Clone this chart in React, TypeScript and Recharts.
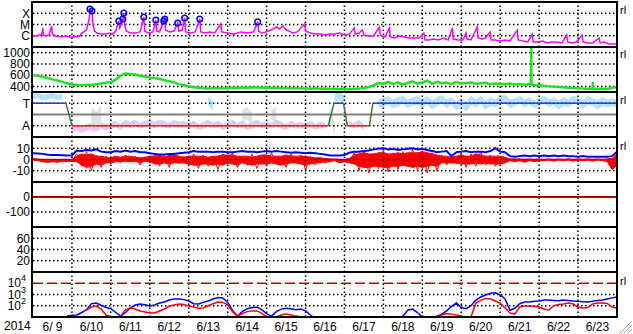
import React from 'react';
import { ComposedChart, Line, Area, XAxis, YAxis, ReferenceLine } from 'recharts';

// ---------- layout ----------
const W = 633;
const PANEL_H = 45;
const PANEL_TOPS = [2, 47, 92, 137, 182, 227, 272];
const MARGIN = { top: 0, right: 16, bottom: 0, left: 0 };
const FONT = '"Liberation Sans", Arial, sans-serif';
const TICK_STYLE = { fill: '#000', fontSize: 12, fontFamily: FONT };

// ---------- categories / labels ----------
const DAY_LABELS = ['6/ 9', '6/10', '6/11', '6/12', '6/13', '6/14', '6/15', '6/16', '6/17', '6/18', '6/19', '6/20', '6/21', '6/22', '6/23'];
const YEAR_LABEL = '2014';
const T_END = 360; // hours from 2014-06-09 00UT
const STEP = 3; // hours between samples of the gridded series
const DAY_BOUNDS = DAY_LABELS.slice(1).map((_, i) => (i + 1) * 24);
const LABEL_HOURS = DAY_LABELS.map((_, i) => i * 24 + 12);

const XRAY_TICKS = [1e-6, 1e-5, 1e-4];
const XRAY_LABELS = ['C', 'M', 'X'];
const SPEED_TICKS = [400, 600, 800, 1000];
const SECTOR_TICKS = [1, 3];
const SECTOR_LABELS = ['A', 'T'];
const IMF_TICKS = [-10, 0, 10];
const DST_TICKS = [-100, 0];
const KP_TICKS = [20, 40, 60];
const PROTON_TICKS = [1e2, 1e3, 1e4];

// ---------- X-ray flux [hour, W/m2] ----------
const xray: [number, number][] = [
  [0, 9.5e-7], [2, 9.5e-7], [4, 1.17e-6], [5.5, 1.4e-6], [6, 4.9e-6], [6.5, 1.17e-6], [8, 9.5e-7], [10, 1.17e-6],
  [11.5, 7.4e-6], [12, 1.4e-6], [14, 9.5e-7], [17, 7.8e-7], [20, 9.5e-7], [23, 7.8e-7], [26, 7.8e-7], [29, 9.5e-7],
  [30, 1.75e-6], [32, 2.6e-6], [33, 3.2e-6], [34.5, 2.5e-5], [35.3, 2.4e-4], [35.8, 1.3e-4], [36.3, 1.6e-4], [37, 1.1e-5],
  [38, 2.6e-6], [39.5, 1.75e-6], [42, 1.4e-6], [45, 1.4e-6], [47, 1.75e-6], [49, 1.4e-6], [51, 2.6e-6], [52.9, 2.0e-5],
  [53.5, 4.9e-6], [54.5, 1.1e-5], [55.4, 3.1e-5], [56, 1.05e-4], [56.6, 7.4e-6], [57.5, 2.6e-6], [60, 1.75e-6], [63, 1.75e-6],
  [66, 2.2e-6], [68.3, 4.6e-5], [68.9, 2.6e-6], [71, 1.75e-6], [74, 2.2e-6], [75.7, 2.5e-5], [76.3, 2.6e-6], [78, 2.2e-6],
  [80.6, 2.0e-5], [81.2, 3.1e-5], [81.8, 3.2e-6], [84, 2.2e-6], [87, 2.6e-6], [89.2, 1.35e-5], [89.8, 2.6e-6], [92, 3.2e-6],
  [93.5, 3.8e-5], [94.1, 2.2e-6], [97, 1.75e-6], [100, 2.2e-6], [102.8, 3.1e-5], [103.4, 2.2e-6], [106, 1.75e-6], [109, 2.2e-6],
  [112, 1.75e-6], [115.7, 1.1e-5], [116.3, 2.2e-6], [120, 1.75e-6], [124, 1.4e-6], [128, 2.2e-6], [132, 1.75e-6], [136, 2.2e-6],
  [138.5, 1.7e-5], [139.1, 2.6e-6], [141, 1.75e-6], [144, 2.2e-6], [148, 4.0e-6], [150, 6.0e-6], [152, 4.0e-6], [154, 7.4e-6],
  [156, 3.2e-6], [158, 2.6e-6], [160, 1.75e-6], [163, 2.2e-6], [167.4, 1.1e-5], [168, 2.6e-6], [171, 1.75e-6], [174, 1.4e-6],
  [177, 1.4e-6], [180, 1.17e-6], [183, 1.4e-6], [186, 1.4e-6], [189, 1.75e-6], [192, 1.17e-6], [195, 1.4e-6], [198, 4.9e-6],
  [198.6, 1.4e-6], [201, 1.75e-6], [203, 3.2e-6], [204, 1.17e-6], [207, 9.5e-7], [210, 9.5e-7], [213.5, 6.0e-6], [214.1, 1.17e-6],
  [217, 7.8e-7], [219.7, 4.9e-6], [220.3, 7.8e-7], [223, 6.3e-7], [226, 9.5e-7], [229, 7.8e-7], [232, 6.3e-7], [235, 6.3e-7],
  [238, 6.3e-7], [241, 1.75e-6], [241.6, 4.2e-7], [244, 4.2e-7], [247, 5.1e-7], [250, 4.2e-7], [253, 6.3e-7], [256, 4.2e-7],
  [258.5, 4.9e-6], [259.1, 5.1e-7], [262, 4.2e-7], [265, 4.2e-7], [267, 1.75e-6], [267.6, 5.1e-7], [270, 4.2e-7], [273.8, 6.0e-6],
  [274.4, 6.3e-7], [277, 5.1e-7], [279, 6.3e-7], [281.8, 2.2e-6], [282.4, 4.2e-7], [285, 4.2e-7], [288, 3.4e-7], [291, 4.2e-7],
  [294, 3.4e-7], [298.5, 3.2e-6], [299.1, 4.2e-7], [302, 3.4e-7], [305, 2.8e-7], [307.7, 1.4e-6], [308.3, 2.8e-7], [311, 2.8e-7],
  [314, 3.4e-7], [317, 2.3e-7], [320, 2.8e-7], [323, 2.8e-7], [326, 2.3e-7], [329, 1.17e-6], [329.6, 2.8e-7], [332, 2.3e-7],
  [335, 2.8e-7], [338.5, 1.17e-6], [339.1, 2.8e-7], [342, 2.3e-7], [345, 2.3e-7], [349, 6.3e-7], [349.6, 2.3e-7], [352, 2.8e-7],
  [355, 1.85e-7], [358, 1.85e-7], [360, 1.85e-7],
];

// flare markers [hour, peak flux]
const flares: [number, number][] = [
  [35.1, 2.4e-4], [36.3, 1.6e-4], [52.9, 2.0e-5], [55.4, 3.1e-5], [56.0, 1.05e-4], [68.3, 4.6e-5], [75.7, 2.5e-5],
  [80.6, 2.0e-5], [81.2, 3.1e-5], [89.2, 1.35e-5], [93.5, 3.8e-5], [102.8, 3.1e-5], [138.5, 1.7e-5],
];

// ---------- solar wind speed, every 3 h ----------
const speed = [
  600, 590, 570, 550, 525, 505, 480, 455,
  435, 425, 420, 430, 425, 440, 450, 465,
  475, 520, 590, 630, 620, 610, 590, 575,
  560, 550, 530, 510, 490, 470, 440, 420,
  400, 385, 375, 368, 362, 370, 365, 372,
  368, 375, 370, 378, 372, 385, 380, 375,
  382, 370, 375, 368, 372, 365, 370, 362,
  368, 360, 365, 358, 362, 355, 358, 352,
  355, 350, 358, 360, 370, 390, 420, 460,
  445, 480, 440, 470, 430, 460, 490, 450,
  470, 500, 445, 480, 455, 470, 440, 475,
  450, 460, 470, 445, 455, 465, 440, 450,
  445, 440, 450, 435, 440, 430, 438, 425,
  420, 410, 400, 395, 390, 385, 375, 370,
  368, 360, 358, 362, 355, 358, 355, 375,
  390,
];
const speedSpikes: [number, number][] = [[306.9, 440], [307.1, 1080], [307.3, 430], [345.1, 478], [345.3, 360]];

// ---------- sector polarity ----------
const sectorKnots: [number, number][] = [
  [0, 3], [20.3, 3], [24, 1], [182, 1], [185.5, 3], [191.4, 3], [193.8, 1], [207.4, 1], [209.5, 3], [360, 3],
];
const N = null;
type Band = [number, number] | null;
// spread of the "away" (light blue) samples, every 3 h
const awayBand: Band[] = [
  [3.4, 3.8], [3.5, 3.9], [3.3, 3.7], [3.4, 3.8], [3.5, 3.9], [3.3, 3.7], [3.4, 3.8], N,
  N, N, N, N, N, [2.4, 3.2], N, N,
  N, N, N, N, N, N, N, [3.0, 3.5],
  N, N, N, N, N, N, N, N,
  N, N, N, N, [2.9, 3.6], [2.4, 3.1], N, N,
  N, N, N, N, N, N, N, N,
  N, N, N, N, N, N, N, N,
  N, N, N, N, N, N, [3.2, 3.8], [3.3, 4.0],
  [2.9, 3.6], N, N, N, N, N, N, [2.7, 3.3],
  [2.7, 3.4], [2.9, 3.6], [2.6, 3.3], [2.8, 3.5], [3.0, 3.6], [2.6, 3.3], [2.8, 3.5], [2.9, 3.6],
  [2.7, 3.3], [2.9, 3.6], [2.5, 3.2], [2.8, 3.5], [3.0, 3.7], [2.6, 3.3], [2.9, 3.5], [2.4, 3.1],
  [2.8, 3.4], [2.3, 3.1], [2.9, 3.6], [2.7, 3.3], [3.0, 3.6], [2.5, 3.2], [2.8, 3.5], [2.7, 3.3],
  [2.9, 3.6], [3.1, 3.7], [2.6, 3.3], [2.8, 3.4], [3.0, 3.6], [2.7, 3.3], [2.9, 3.5], [2.6, 3.2],
  [2.8, 3.4], [3.0, 3.6], [2.7, 3.3], [2.9, 3.5], [2.5, 3.2], [2.8, 3.5], [2.7, 3.3], [3.0, 3.6],
  [2.9, 3.5], [2.6, 3.2], [2.9, 3.6], [2.8, 3.4], [2.5, 3.2], [2.8, 3.5], [2.7, 3.3], [2.8, 3.4],
  [2.7, 3.3],
];
// spread of the "toward" (pink) samples, every 3 h
const towardBand: Band[] = [
  N, N, N, N, N, N, N, N,
  [0.5, 0.9], [0.6, 1.1], [0.4, 0.9], [0.6, 1.1], [0.7, 1.2], [0.5, 1.0], [0.8, 1.3], [0.6, 1.1],
  [0.8, 1.2], [0.9, 1.4], [0.7, 1.1], [1.0, 1.5], [0.8, 1.3], [1.0, 1.5], [0.8, 1.2], [0.9, 1.4],
  [1.0, 1.5], [0.8, 1.3], [1.1, 1.5], [0.9, 1.4], [0.8, 1.2], [1.0, 1.5], [0.8, 1.3], [0.9, 1.4],
  [0.8, 1.2], [0.9, 1.4], [0.7, 1.1], [0.8, 1.3], [1.0, 1.5], [0.8, 1.2], [0.9, 1.4], [0.7, 1.1],
  [0.8, 1.3], [1.0, 1.5], [0.8, 1.2], [0.9, 1.4], [0.7, 1.1], [0.8, 1.3], [1.0, 1.5], [0.8, 1.2],
  [0.9, 1.4], [0.8, 1.2], [1.0, 1.5], [0.8, 1.3], [0.7, 1.1], [0.9, 1.4], [0.8, 1.2], [0.8, 1.3],
  [0.8, 1.2], [0.9, 1.4], [0.7, 1.1], [0.8, 1.3], [0.8, 1.2], N, N, N,
  N, [0.9, 1.4], [0.8, 1.2], [1.0, 1.5], [0.7, 1.1], N, N, N,
  N, N, N, N, N, N, N, N,
  N, N, N, N, N, N, N, N,
  N, N, N, N, N, N, N, N,
  N, N, N, N, N, N, N, N,
  N, N, N, N, N, N, N, N,
  N, N, N, N, N, N, N, N,
  N,
];
// spread of the undetermined (gray) samples, every 3 h
const grayBand: Band[] = [
  N, N, N, N, N, N, N, N,
  N, N, N, N, [0.4, 2.6], [0.6, 2.2], [1.5, 2.8], N,
  N, N, N, N, N, N, N, N,
  N, N, N, N, N, N, N, N,
  N, N, N, N, N, N, N, N,
  N, N, N, [1.4, 2.4], [1.6, 2.6], [1.2, 2.2], N, N,
  N, [1.6, 2.4], [1.4, 2.6], N, N, N, N, N,
  N, N, N, N, N, [1.8, 2.6], [0.2, 1.2], N,
  N, N, N, N, N, N, N, N,
  N, N, N, N, N, N, N, N,
  N, N, N, N, N, N, N, N,
  N, N, N, N, N, N, N, N,
  N, N, N, N, N, N, N, N,
  N, N, N, N, N, N, N, N,
  N, N, N, N, N, N, N, N,
  N,
];

// ---------- IMF Bt (nT), Bz dense core spread and Bz spikes (nT), every 3 h ----------
const bt = [
  5.5, 5.3, 5, 4.2, 4, 4, 3.8, 3.5,
  3.5, 8, 7.5, 8.5, 8, 9, 7, 6.5,
  6.5, 7.5, 7, 8, 7, 7.5, 6.5, 6.5,
  5.5, 5, 4.5, 4.5, 5, 5, 5.5, 6,
  6.5, 7.5, 7, 7, 7, 6.5, 7, 7,
  6.5, 6.5, 7, 7.5, 7, 7, 6.5, 7,
  7.5, 7, 7.5, 7, 6.5, 6, 6.5, 6,
  5.5, 6, 5.5, 5, 4.5, 3.5, 3.5, 3.5,
  4, 6, 7, 7, 7.5, 8, 9, 9.5,
  10, 9, 9.5, 8.5, 9, 9.5, 10, 9,
  9.5, 8.5, 7.5, 6.5, 7, 7.5, 3, 6.5,
  7, 7.5, 6.5, 7, 7, 6.5, 7.5, 10,
  7, 6.5, 3, 2.5, 3, 3.5, 3, 3.5,
  3, 3.5, 3, 3.5, 3, 3.5, 3, 3,
  2.5, 3, 2.5, 2.5, 2.5, 2.5, 2.5, 3,
  7,
];
const bzCore: [number, number][] = [
  [-0.5, 1], [-1, 0.5], [-2, -0.5], [-2.5, -1], [-2, -1], [-2.5, -1], [-1.5, 0], [-2, -0.5],
  [-1.5, 0], [-2, 3], [-5, 5], [-7, 4], [-6, 5], [-4, 3], [-5, 3], [-3, 2],
  [-3, 1.5], [-2, 3], [-2, 2], [-1.5, 3], [-2, 3], [-1.5, 2], [-3, 1.5], [-1.5, 2],
  [-2, 3], [-4, 3], [-4, 4], [-3, 2], [-4, 4], [-3, 4], [-3, 3], [-3, 2],
  [-4, 3], [-5, 3], [-5, 3], [-4, 3], [-4, 2], [-5, 3], [-4, 3], [-5, 4],
  [-3, 4], [-4, 4], [-5, 3], [-3, 3], [-4, 3], [-5, 2], [-4, 3], [-4, 4],
  [-4, 4], [-3, 3], [-4, 3], [-5, 3], [-4, 4], [-3, 3], [-3, 3], [-4, 3],
  [-5, 3], [-4, 2], [-3, 1.5], [-3, 1.5], [-2, 1], [-2, 0.5], [-1, 0.5], [-3, 0],
  [-2, 0], [-3, 1], [-4, 4], [-6, 5], [-7, 6], [-7, 5], [-6, 5], [-6, 6],
  [-7, 6], [-7, 5], [-6, 5], [-6, 6], [-5, 5], [-6, 6], [-7, 6], [-6, 6],
  [-7, 7], [-6, 6], [-5, 5], [-6, 4], [-3, 3], [-3, 3], [-3, 2], [-3, 3],
  [-4, 4], [-4, 3], [-4, 3], [-3, 5], [-4, 4], [-3, 3], [-4, 3], [-4, 3],
  [-4, 3], [-3, 2], [-1, 0.5], [-2, 0.5], [-1, 0.5], [-2.5, 0], [-1, 0.5], [-2, 0],
  [-1, 0.5], [-1, 0], [-0.5, 0.5], [-1.5, 0], [-0.5, 0.5], [-1, 0], [-0.5, 0.5], [-1.5, 0],
  [-0.5, 0.5], [-1, 0], [-0.5, 0.5], [-1.5, 0], [-0.5, 0.5], [-1, 0], [-2, 0.5], [-9, 1],
  [-5, 5],
];
const bzSpikes = [
  0.5, -0.5, -1.5, -2, -1.5, -2, -1, -1.5,
  -1, 5, -6, 7, -10, 4, -7, 3,
  -4, 2, -3, 4, -2, 3, -5, 2,
  -3, 5, -6, 4, -7, 6, -4, 3,
  -5, 5, -8, 4, -6, 3, -9, 5,
  -4, 6, -7, 2, -5, 5, -8, 3,
  -6, 6, -4, 2, -7, 5, -3, 4,
  -9, 3, -5, 2, -3, -1, 0, -2,
  -1, -3, 6, -10, 8, -12, 5, -8,
  9, -11, 6, -9, 7, -6, 9, -10,
  8, -12, 6, -10, 4, -5, 3, -4,
  6, -7, 5, -6, 7, -5, 4, -6,
  3, -2, 0, -1, 0.5, -2, 0, -1.5,
  0, -0.5, 0, -1, 0, -0.5, 0.5, -1,
  0, -0.5, 0, -1, 0, -0.5, 0, -8,
  3,
];

// ---------- particle flux (log), every 3 h ----------
const fluxBlue = [
  N, N, N, N, N, N, N, 12,
  14, 15, 25, 45, 150, 175, 110, 70,
  55, 25, 12, 25, 63, 116, 143, 120,
  95, 116, 175, 215, 325, 400, 400, 350,
  265, 150, 143, 200, 265, 400, 550, 500,
  200, 40, 12, 30, 55, 70, 75, 45,
  20, 12, 30, 50, 60, 55, 45, 50,
  35, 15, 8, 6, 5, 5, 5, 5,
  5, 5, 5, 5, 5, 5, 5, 5,
  5, 5, 6, 8, 12, 40, 50, 25,
  10, 8, 8, 12, 18, 35, 90, 175,
  70, 55, 100, 325, 600, 900, 1300, 1400,
  900, 400, 40, 60, 150, 215, 215, 250,
  265, 325, 325, 300, 280, 325, 300, 265,
  250, 230, 215, 250, 300, 325, 400, 500,
  600,
];
const fluxRed = [
  N, N, N, N, N, N, N, N,
  N, N, N, 40, 77, 95, 50, 15,
  10, 8, 12, 45, 63, 51, 34, 28,
  23, 23, 34, 51, 95, 116, 143, 130,
  95, 77, 60, 63, 100, 150, 215, 200,
  120, 30, 12, 20, 30, 35, 35, 22,
  10, 7, 10, 15, 18, 15, 12, 10,
  8, 5, 5, 5, 5, 5, 5, 5,
  5, 5, 5, 5, 5, 5, 5, 5,
  5, 5, 5, 5, 5, 5, 8, 5,
  12, 10, 8, 10, 15, 20, 18, 15,
  12, 10, 10, 175, 300, 450, 400, 265,
  175, 63, 23, 18, 77, 95, 95, 90,
  77, 51, 42, 100, 130, 143, 175, 143,
  77, 63, 70, 143, 175, 175, 160, 77,
  60,
];

// ---------- helpers ----------
const gridded = (vals: any[]) => vals.map((v, i) => ({ h: i * STEP, v }));
const pairs = (p: [number, number][]) => p.map(([h, v]) => ({ h, v }));
const FRAME = [{ h: 0 }, { h: T_END }];

const xrayData = pairs(xray);
const flareData = pairs(flares);
const speedData = [...gridded(speed), ...pairs(speedSpikes)].sort((a, b) => a.h - b.h);
const sectorSegments = sectorKnots.slice(0, -1).map((k, i) => {
  const n = sectorKnots[i + 1];
  const color = k[1] !== n[1] ? '#3a7a3a' : k[1] === 3 ? '#3434e8' : '#e02828';
  return { color, data: [{ h: k[0], v: k[1] }, { h: n[0], v: n[1] }] };
});

const DOT = { stroke: '#000', strokeDasharray: '1.5 2.5', strokeWidth: 1.5 };

const PowTick = (props: any) => {
  const { x, y, payload } = props;
  const e = Math.round(Math.log10(payload.value));
  return (
    <text x={x - 4} y={y + 4} textAnchor="end" fontSize={12} fontFamily={FONT} fill="#000">
      <tspan>10</tspan>
      <tspan dy={-6} fontSize={9}>{e}</tspan>
    </text>
  );
};

function Panel(props: any) {
  const { top, height = PANEL_H, domain, scale = 'linear', ticks, labels, tickComp, dotted = [], children, bottomAxis = false } = props;
  const fmt = labels ? (v: number) => {
    const i = ticks.findIndex((t: number) => Math.abs(t - v) <= Math.abs(t) * 1e-6);
    return i >= 0 ? labels[i] : String(v);
  } : undefined;
  return (
    <div style={{ position: 'absolute', left: 0, top }}>
      <ComposedChart width={W} height={height} data={FRAME} margin={MARGIN}>
        <XAxis
          type="number" dataKey="h" domain={[0, T_END]} allowDataOverflow hide={!bottomAxis}
          ticks={LABEL_HOURS} interval={0} tickFormatter={(v: number) => DAY_LABELS[Math.round((v - 12) / 24)]}
          axisLine={false} tickLine={false} tickSize={0} tickMargin={5} height={bottomAxis ? 17 : 0} tick={TICK_STYLE}
        />
        <YAxis
          type="number" domain={domain} scale={scale} allowDataOverflow ticks={ticks} interval={0}
          tickFormatter={fmt} tick={tickComp || TICK_STYLE} axisLine={false} tickLine={false}
          tickSize={0} tickMargin={3} width={33}
        />
        {DAY_BOUNDS.map((h) => <ReferenceLine key={'v' + h} x={h} {...DOT} />)}
        {dotted.map((v: number) => <ReferenceLine key={'h' + v} y={v} {...DOT} />)}
        {children}
      </ComposedChart>
    </div>
  );
}

const line = (key: string, data: any[], color: string, width = 1.5) => (
  <Line key={key} data={data} dataKey="v" stroke={color} strokeWidth={width} dot={false} activeDot={false}
    isAnimationActive={false} type="linear" />
);
const band = (key: string, data: any[], color: string) => (
  <Area key={key} data={data} dataKey="v" stroke={color} strokeWidth={1} fill={color} fillOpacity={1}
    dot={false} activeDot={false} isAnimationActive={false} type="linear" />
);

export default function App() {
  return (
    <div style={{ position: 'absolute', left: 0, top: 0, width: W, height: 334, background: '#fff', fontFamily: FONT }}>
      <style>{'.recharts-surface{overflow:visible}'}</style>
      <Panel top={PANEL_TOPS[0]} domain={[1e-7, 1e-3]} scale="log" ticks={XRAY_TICKS} labels={XRAY_LABELS} dotted={XRAY_TICKS}>
        {line('xray', xrayData, '#ff00ff', 1.5)}
        <Line data={flareData} dataKey="v" stroke="none" strokeWidth={0} isAnimationActive={false} activeDot={false}
          dot={{ r: 2.8, stroke: '#0000ff', strokeWidth: 1.5, fill: 'none' }} />
      </Panel>
      <Panel top={PANEL_TOPS[1]} domain={[300, 1100]} ticks={SPEED_TICKS} dotted={SPEED_TICKS}>
        {line('speed', speedData, '#22e022', 2.5)}
      </Panel>
      <Panel top={PANEL_TOPS[2]} domain={[0, 4]} ticks={SECTOR_TICKS} labels={SECTOR_LABELS} dotted={SECTOR_TICKS}>
        <ReferenceLine y={2} stroke="#808080" strokeWidth={2} />
        {band('gray', gridded(grayBand), '#e2e2e2')}
        {band('toward', gridded(towardBand), '#f6c0f2')}
        {band('away', gridded(awayBand), '#b0e4f6')}
        {sectorSegments.map((s, i) => line('sec' + i, s.data, s.color, 1.5))}
      </Panel>
      <Panel top={PANEL_TOPS[3]} domain={[-20, 20]} ticks={IMF_TICKS} dotted={[-10, 10]}>
        <ReferenceLine y={0} stroke="#b00000" strokeWidth={1.5} />
        {band('bzcore', gridded(bzCore), '#ff0000')}
        {line('bz', gridded(bzSpikes), '#ff0000', 1)}
        {line('bt', gridded(bt), '#0000ff', 2)}
      </Panel>
      <Panel top={PANEL_TOPS[4]} domain={[-200, 100]} ticks={DST_TICKS} dotted={[-100]}>
        <ReferenceLine y={0} stroke="#b00000" strokeWidth={2} />
      </Panel>
      <Panel top={PANEL_TOPS[5]} domain={[0, 80]} ticks={KP_TICKS} dotted={KP_TICKS} />
      <Panel top={PANEL_TOPS[6]} height={PANEL_H + 17} domain={[10, 1e5]} scale="log" ticks={PROTON_TICKS}
        tickComp={<PowTick />} dotted={[1e2, 1e3]} bottomAxis>
        <ReferenceLine y={1e4} stroke="#c00000" strokeWidth={1.5} strokeDasharray="10 4" />
        {line('fb', gridded(fluxBlue), '#0000ff', 1.5)}
        {line('fr', gridded(fluxRed), '#ff0000', 1.5)}
      </Panel>
      <svg width={W} height={334} style={{ position: 'absolute', left: 0, top: 0, pointerEvents: 'none' }}>
        {PANEL_TOPS.concat([317]).map((y) => (
          <line key={'b' + y} x1={31} x2={618} y1={y} y2={y} stroke="#000" strokeWidth={2} />
        ))}
        <line x1={32} x2={32} y1={1} y2={318} stroke="#000" strokeWidth={2} />
        <line x1={617} x2={617} y1={1} y2={318} stroke="#000" strokeWidth={2} />
        {[10, 54, 100, 146, 281].map((y) => (
          <text key={'rl' + y} x={620} y={y + 4} fontSize={11} fontFamily={FONT} fill="#000">rl</text>
        ))}
        <text x={4} y={330} fontSize={12} fontFamily={FONT} fill="#000">{YEAR_LABEL}</text>
        {[4, 8, 12].map((k) => (
          <line key={'g' + k} x1={632 - k} y1={333} x2={632} y2={333 - k} stroke="#a0a0a0" strokeWidth={1} />
        ))}
      </svg>
    </div>
  );
}
